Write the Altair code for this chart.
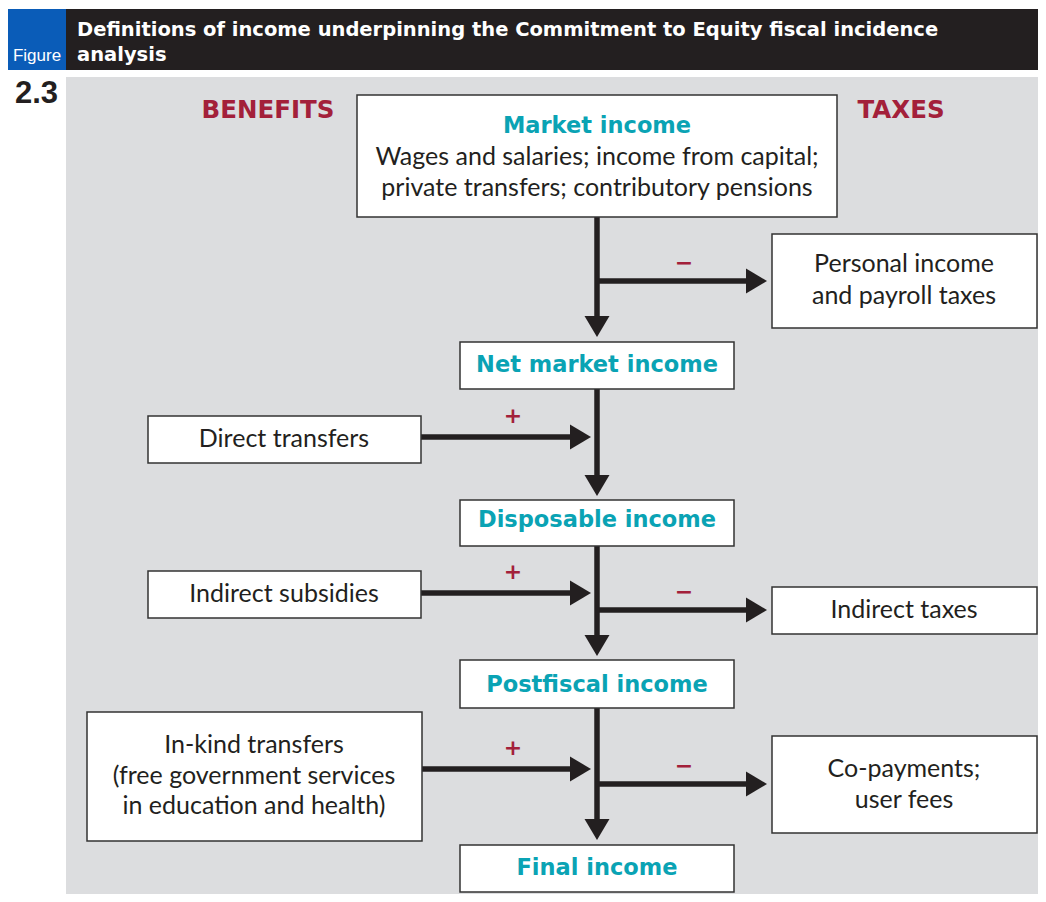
import altair as alt
import pandas as pd

# ---------------- content ----------------
title_lines = [
    "Definitions of income underpinning the Commitment to Equity fiscal incidence",
    "analysis",
]
figure_label = "Figure"
figure_number = "2.3"
side_headers = ["BENEFITS", "TAXES"]

income_titles = ["Market income", "Net market income", "Disposable income",
                 "Postfiscal income", "Final income"]
market_detail = ["Wages and salaries; income from capital;",
                 "private transfers; contributory pensions"]
benefit_labels = [["Direct transfers"],
                  ["Indirect subsidies"],
                  ["In-kind transfers", "(free government services", "in education and health)"]]
tax_labels = [["Personal income", "and payroll taxes"],
              ["Indirect taxes"],
              ["Co-payments;", "user fees"]]
benefit_signs = ["+", "+", "+"]
tax_signs = ["\u2212", "\u2212", "\u2212"]

# ---------------- layout (page pixels) ----------------
OX, OY, W, H = 8, 8, 1030, 886
FLOW_X = 597
income_box_x = [(357, 837), (460, 734), (460, 734), (460, 734), (460, 734)]
income_box_y = [(95, 217), (342, 389), (500, 546), (660, 708), (845, 892)]
income_title_base = [133, 372, 527, 692, 875]
market_detail_base = [165, 196]
benefit_box_x = [(148, 421), (148, 421), (87, 422)]
benefit_box_y = [(416, 463), (571, 618), (712, 841)]
benefit_text_base = [[447], [602], [753, 784, 814]]
benefit_text_x = [284, 284, 254]
benefit_arrow_y = [437, 593, 769]
tax_box_x = [(772, 1037), (772, 1037), (772, 1037)]
tax_box_y = [(234, 328), (587, 634), (736, 833)]
tax_text_base = [[272, 304], [618], [777, 808]]
tax_text_x = [904, 904, 904]
tax_arrow_y = [281, 610, 784]
down_tips = [337, 496, 656, 840]
right_tip_x = 767
left_tip_x = 591
ARW = 10.5  # half arrowhead length

INK = "#231f20"
TEAL = "#0aa3b4"
RED = "#a3203a"
GRAY = "#dcdddf"
BLUE = "#0a5cb8"
BODY_FONT = "Lato"

xs = alt.Scale(domain=[OX, OX + W], nice=False, zero=False)
ys = alt.Scale(domain=[OY, OY + H], nice=False, zero=False, reverse=True)
X = alt.X("x:Q", scale=xs, axis=None)
Y = alt.Y("y:Q", scale=ys, axis=None)


def rects(df, **mark):
    return alt.Chart(df).mark_rect(**mark).encode(
        x=X, x2="x2:Q", y=Y, y2="y2:Q")


def rules(df, **mark):
    return alt.Chart(df).mark_rule(**mark).encode(
        x=X, x2="x2:Q", y=Y, y2="y2:Q")


def texts(df, **mark):
    return alt.Chart(df).mark_text(baseline="alphabetic", **mark).encode(
        x=X, y=Y, text="t:N")


# background panels
blue_panel = rects(pd.DataFrame([dict(x=8, x2=66, y=9, y2=70)]), color=BLUE)
black_panel = rects(pd.DataFrame([dict(x=66, x2=OX + W, y=9, y2=70)]), color=INK)
gray_panel = rects(pd.DataFrame([dict(x=66, x2=OX + W, y=77, y2=OY + H)]), color=GRAY)

# boxes
box_rows = []
for (x1, x2), (y1, y2) in zip(income_box_x, income_box_y):
    box_rows.append(dict(x=x1, x2=x2, y=y1, y2=y2))
for (x1, x2), (y1, y2) in zip(benefit_box_x, benefit_box_y):
    box_rows.append(dict(x=x1, x2=x2, y=y1, y2=y2))
for (x1, x2), (y1, y2) in zip(tax_box_x, tax_box_y):
    box_rows.append(dict(x=x1, x2=x2, y=y1, y2=y2))
boxes = rects(pd.DataFrame(box_rows), fill="white", stroke="#333333", strokeWidth=1.5)

# connector lines
line_rows = []
for (yb, tip) in zip([income_box_y[i][1] for i in range(4)], down_tips):
    line_rows.append(dict(x=FLOW_X, x2=FLOW_X, y=yb, y2=tip - ARW))
for i, ya in enumerate(benefit_arrow_y):
    line_rows.append(dict(x=benefit_box_x[i][1], x2=left_tip_x - ARW, y=ya, y2=ya))
for ya in tax_arrow_y:
    line_rows.append(dict(x=FLOW_X, x2=right_tip_x - ARW, y=ya, y2=ya))
lines = rules(pd.DataFrame(line_rows), color=INK, strokeWidth=5.5)

DOWN = "M-1,-0.84L1,-0.84L0,0.84Z"
RIGHT = "M-0.84,-1L0.84,0L-0.84,1Z"
down_heads = alt.Chart(pd.DataFrame(
    [dict(x=FLOW_X, y=t - ARW) for t in down_tips])).mark_point(
    shape=DOWN, size=625, filled=True, color=INK, opacity=1, strokeWidth=0
).encode(x=X, y=Y)
right_rows = [dict(x=left_tip_x - ARW, y=ya) for ya in benefit_arrow_y] + \
             [dict(x=right_tip_x - ARW, y=ya) for ya in tax_arrow_y]
right_heads = alt.Chart(pd.DataFrame(right_rows)).mark_point(
    shape=RIGHT, size=625, filled=True, color=INK, opacity=1, strokeWidth=0
).encode(x=X, y=Y)

# texts
title_t = texts(pd.DataFrame([dict(x=77, y=36, t=title_lines[0]),
                              dict(x=77, y=61, t=title_lines[1])]),
                align="left", font="DejaVu Sans", fontWeight="bold",
                fontSize=19.5, color="white")
fig_t = texts(pd.DataFrame([dict(x=37, y=61, t=figure_label)]),
              align="center", font="Liberation Sans",
              fontSize=17, color="white")
num_t = texts(pd.DataFrame([dict(x=15, y=103, t=figure_number)]),
              align="left", font="Liberation Sans",
              fontWeight="bold", fontSize=31, color=INK)
head_t = texts(pd.DataFrame([dict(x=268, y=118, t=side_headers[0]),
                             dict(x=901, y=118, t=side_headers[1])]),
               align="center", font="DejaVu Sans", fontWeight="bold",
               fontSize=24.5, color=RED)
inc_t = texts(pd.DataFrame([dict(x=FLOW_X, y=b, t=s)
                            for s, b in zip(income_titles, income_title_base)]),
              align="center", font="DejaVu Sans", fontWeight="bold", fontSize=22.5, color=TEAL)

body_rows = [dict(x=FLOW_X, y=b, t=s) for s, b in zip(market_detail, market_detail_base)]
for lines_, bases, cx in zip(benefit_labels, benefit_text_base, benefit_text_x):
    body_rows += [dict(x=cx, y=b, t=s) for s, b in zip(lines_, bases)]
for lines_, bases, cx in zip(tax_labels, tax_text_base, tax_text_x):
    body_rows += [dict(x=cx, y=b, t=s) for s, b in zip(lines_, bases)]
body_t = texts(pd.DataFrame(body_rows), align="center", font=BODY_FONT,
               fontSize=25, color=INK)

sign_rows = [dict(x=513, y=ya - 14, t=s) for s, ya in zip(benefit_signs, benefit_arrow_y)] + \
            [dict(x=684, y=ya - 11, t=s) for s, ya in zip(tax_signs, tax_arrow_y)]
sign_t = texts(pd.DataFrame(sign_rows), align="center", font="DejaVu Sans",
               fontWeight="bold", fontSize=22, color=RED)

chart = alt.layer(
    blue_panel, black_panel, gray_panel, lines, down_heads, right_heads, boxes,
    title_t, fig_t, num_t, head_t, inc_t, body_t, sign_t
).properties(
    width=W, height=H, padding=0, autosize="none", background="white"
).configure_view(strokeWidth=0)

chart.save("out.html", embed_options={"renderer": "svg", "actions": False})
